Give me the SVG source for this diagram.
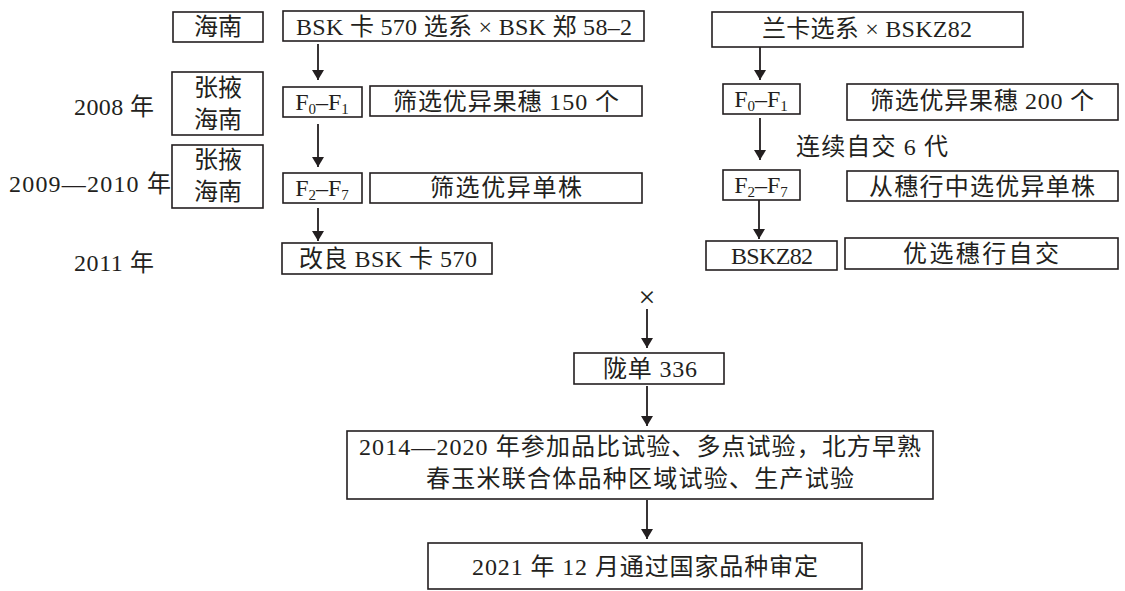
<svg xmlns="http://www.w3.org/2000/svg" width="1125" height="591" viewBox="0 0 1125 591">
<defs>
<marker id="ah" viewBox="0 0 10 12" refX="10" refY="6" markerWidth="10" markerHeight="12" markerUnits="userSpaceOnUse" orient="auto">
<path d="M0,0 L10,6 L0,12 Z" fill="#231f20"/>
</marker>
<style>
.b{fill:#fff;stroke:#231f20;stroke-width:1.6}
.t{font-family:"Liberation Serif","Noto Sans CJK SC",serif;font-size:24px;fill:#231f20;text-anchor:middle}
.l{font-family:"Liberation Serif","Noto Sans CJK SC",serif;font-size:24px;fill:#231f20}
.c{stroke:#231f20;stroke-width:1.8;fill:none;marker-end:url(#ah)}
.s{font-size:15px}
</style>
</defs>
<rect width="1125" height="591" fill="#fff"/>
<g id="connectors">
<line class="c" x1="318" y1="44" x2="318" y2="80"/>
<line class="c" x1="318" y1="124" x2="318" y2="167"/>
<line class="c" x1="318" y1="208" x2="318" y2="241"/>
<line class="c" x1="760" y1="47" x2="760" y2="80"/>
<line class="c" x1="760" y1="118" x2="760" y2="160"/>
<line class="c" x1="759" y1="197" x2="759" y2="239"/>
<line class="c" x1="647" y1="309" x2="647" y2="348"/>
<line class="c" x1="647" y1="386" x2="647" y2="426"/>
<line class="c" x1="647" y1="500" x2="647" y2="539"/>
</g>
<g id="labels">
<text class="l" x="74" y="115" textLength="80" lengthAdjust="spacing">2008 年</text>
<text class="l" x="9" y="192" textLength="162" lengthAdjust="spacing">2009—2010 年</text>
<text class="l" x="74" y="271" textLength="80" lengthAdjust="spacing">2011 年</text>
<text class="l" x="796" y="155" textLength="152" lengthAdjust="spacing">连续自交 6 代</text>
<text class="t" x="647" y="307" style="font-size:30px">×</text>
</g>
<g id="n-hainan1"><rect class="b" x="173" y="12" width="90" height="30"/><text class="t" x="218" y="35" textLength="48" lengthAdjust="spacing">海南</text></g>
<g id="n-cross1"><rect class="b" x="283" y="11" width="361" height="30"/><text class="t" x="464" y="35" textLength="336" lengthAdjust="spacing">BSK 卡 570 选系 × BSK 郑 58–2</text></g>
<g id="n-loc2008"><rect class="b" x="172" y="72" width="91" height="63"/><text class="t" x="218" y="96" textLength="48" lengthAdjust="spacing">张掖</text><text class="t" x="218" y="128" textLength="48" lengthAdjust="spacing">海南</text></g>
<g id="n-f0f1-l"><rect class="b" x="283" y="87" width="79" height="30"/><text class="t" x="322" y="110">F<tspan class="s" dy="4">0</tspan><tspan dy="-4">–F</tspan><tspan class="s" dy="4">1</tspan></text></g>
<g id="n-sel150"><rect class="b" x="370" y="86" width="272" height="30"/><text class="t" x="506" y="110" textLength="226" lengthAdjust="spacing">筛选优异果穗 150 个</text></g>
<g id="n-loc2009"><rect class="b" x="172" y="145" width="91" height="63"/><text class="t" x="218" y="168" textLength="48" lengthAdjust="spacing">张掖</text><text class="t" x="218" y="200" textLength="48" lengthAdjust="spacing">海南</text></g>
<g id="n-f2f7-l"><rect class="b" x="283" y="173" width="79" height="30"/><text class="t" x="322" y="196">F<tspan class="s" dy="4">2</tspan><tspan dy="-4">–F</tspan><tspan class="s" dy="4">7</tspan></text></g>
<g id="n-selplant-l"><rect class="b" x="370" y="173" width="272" height="30"/><text class="t" x="506" y="196" textLength="152" lengthAdjust="spacing">筛选优异单株</text></g>
<g id="n-improved"><rect class="b" x="282" y="243" width="210" height="31"/><text class="t" x="388" y="267" textLength="178" lengthAdjust="spacing">改良 BSK 卡 570</text></g>
<g id="n-cross2"><rect class="b" x="712" y="12" width="311" height="35"/><text class="t" x="867" y="37" textLength="210" lengthAdjust="spacing">兰卡选系 × BSKZ82</text></g>
<g id="n-f0f1-r"><rect class="b" x="723" y="84" width="77" height="30"/><text class="t" x="761" y="107">F<tspan class="s" dy="4">0</tspan><tspan dy="-4">–F</tspan><tspan class="s" dy="4">1</tspan></text></g>
<g id="n-sel200"><rect class="b" x="847" y="84" width="271" height="36"/><text class="t" x="982" y="109" textLength="224" lengthAdjust="spacing">筛选优异果穗 200 个</text></g>
<g id="n-f2f7-r"><rect class="b" x="723" y="170" width="77" height="30"/><text class="t" x="761" y="193">F<tspan class="s" dy="4">2</tspan><tspan dy="-4">–F</tspan><tspan class="s" dy="4">7</tspan></text></g>
<g id="n-selplant-r"><rect class="b" x="847" y="171" width="271" height="30"/><text class="t" x="982" y="195" textLength="226" lengthAdjust="spacing">从穗行中选优异单株</text></g>
<g id="n-bskz82"><rect class="b" x="706" y="241" width="131" height="29"/><text class="t" x="772" y="264" textLength="82" lengthAdjust="spacing">BSKZ82</text></g>
<g id="n-selfing"><rect class="b" x="845" y="238" width="273" height="31"/><text class="t" x="981" y="262" textLength="156" lengthAdjust="spacing">优选穗行自交</text></g>
<g id="n-longdan"><rect class="b" x="574" y="353" width="150" height="31"/><text class="t" x="650" y="377" textLength="94" lengthAdjust="spacing">陇单 336</text></g>
<g id="n-trials"><rect class="b" x="347" y="431" width="586" height="68"/><text class="t" x="640" y="455" textLength="562" lengthAdjust="spacing">2014—2020 年参加品比试验、多点试验，北方早熟</text><text class="t" x="640" y="487" textLength="428" lengthAdjust="spacing">春玉米联合体品种区域试验、生产试验</text></g>
<g id="n-approved"><rect class="b" x="428" y="543" width="434" height="46"/><text class="t" x="645" y="575" textLength="346" lengthAdjust="spacing">2021 年 12 月通过国家品种审定</text></g>
</svg>
